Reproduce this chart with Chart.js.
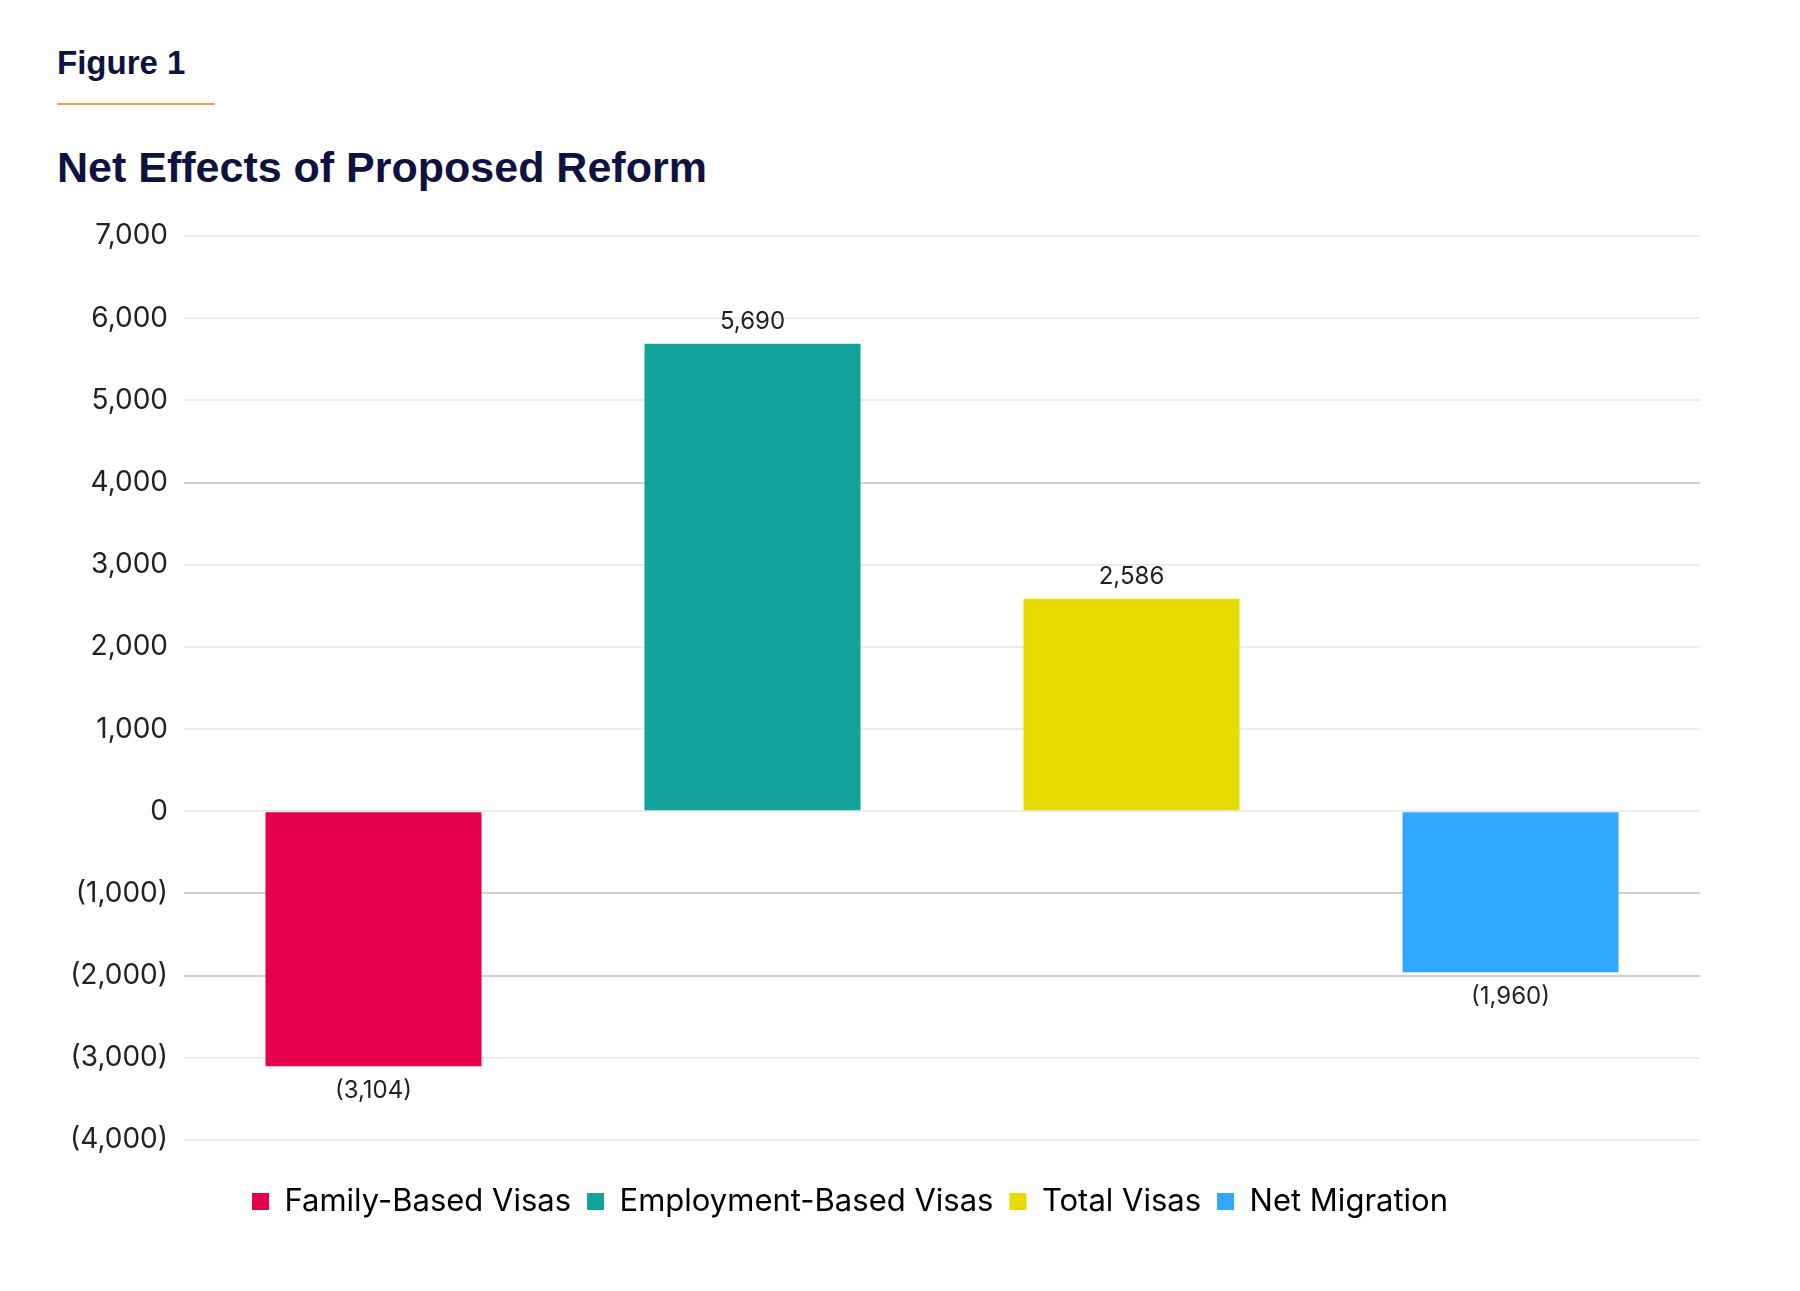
<!DOCTYPE html>
<html>
<head>
<meta charset="utf-8">
<script src="https://cdn.jsdelivr.net/npm/chart.js@4"></script>
<style>
  body { margin: 0; background: #fff; width: 1800px; height: 1291px; position: relative; overflow: hidden; }
  #fig { position: absolute; left: 57px; top: 44px; font: bold 33px "Liberation Sans Narrow", "Liberation Sans", sans-serif; color: #0d1240; }
  #rule { position: absolute; left: 57px; top: 103px; width: 158px; height: 2px; background: #f5a340; }
  #titulo { position: absolute; left: 57px; top: 143px; font: bold 43px "Liberation Sans Narrow", "Liberation Sans", sans-serif; color: #0d1240; }
  #box { position: absolute; left: 0; top: 200px; width: 1800px; height: 1091px; }
</style>
</head>
<body>
<div id="fig">Figure 1</div>
<div id="rule"></div>
<div id="titulo">Net Effects of Proposed Reform</div>
<div id="box"><canvas id="grafico"></canvas></div>
<script>
const categorias = ["Family-Based Visas", "Employment-Based Visas", "Total Visas", "Net Migration"];
const valores = [-3104, 5690, 2586, -1960];
const cores = ["#e6004c", "#12a39a", "#e6dc00", "#31a8ff"];

const fonte = "Inter, 'Liberation Sans', sans-serif";

function fmt(v) {
    const s = Math.abs(v).toLocaleString("en-US");
    return v < 0 ? "(" + s + ")" : s;
}

// Rótulos nas pontas das barras
const rotulos = {
    id: "rotulos",
    afterDatasetsDraw(chart) {
        const ctx = chart.ctx;
        const meta = chart.getDatasetMeta(0);
        ctx.save();
        ctx.font = "24px " + fonte;
        ctx.fillStyle = "#222";
        ctx.textAlign = "center";
        meta.data.forEach((bar, i) => {
            const v = valores[i];
            if (v >= 0) {
                ctx.textBaseline = "bottom";
                ctx.fillText(fmt(v), bar.x, bar.y - 10);
            } else {
                ctx.textBaseline = "top";
                ctx.fillText(fmt(v), bar.x, bar.y + 12);
            }
        });
        ctx.restore();
    }
};

new Chart(document.getElementById("grafico").getContext("2d"), {
    type: "bar",
    data: {
        labels: categorias,
        datasets: [{
            data: valores,
            backgroundColor: cores,
            barPercentage: 1,
            categoryPercentage: 0.57
        }]
    },
    options: {
        responsive: true,
        maintainAspectRatio: false,
        animation: false,
        layout: { padding: { top: 36, right: 100, bottom: 64, left: 0 } },
        plugins: {
            tooltip: { enabled: false },
            legend: {
                position: "bottom",
                labels: {
                    font: { size: 31, family: fonte },
                    color: "#222",
                    boxWidth: 17,
                    boxHeight: 17,
                    padding: 16,
                    generateLabels: () => categorias.map((c, i) => ({
                        text: c, fillStyle: cores[i], strokeStyle: cores[i], lineWidth: 0, index: i
                    }))
                }
            }
        },
        scales: {
            x: {
                grid: { display: false },
                border: { display: false },
                ticks: { display: false },
                afterFit: s => { s.height = 30; }
            },
            y: {
                min: -4000,
                max: 7000,
                ticks: {
                    stepSize: 1000,
                    font: { size: 28, family: fonte },
                    color: "#222",
                    padding: 16,
                    callback: v => fmt(v)
                },
                grid: {
                    drawTicks: false,
                    lineWidth: 2,
                    color: c => [4000, -1000, -2000].includes(c.tick && c.tick.value) ? "#d0d0d0" : "#ececec"
                },
                border: { display: false },
                afterFit: s => { s.width = 184; }
            }
        }
    },
    plugins: [rotulos]
});
</script>
</body>
</html>
